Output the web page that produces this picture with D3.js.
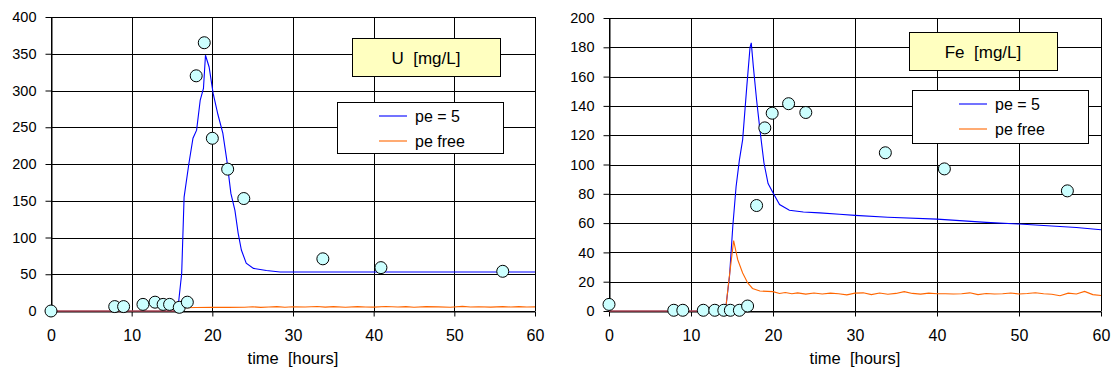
<!DOCTYPE html>
<html>
<head>
<meta charset="utf-8">
<script src="https://cdn.jsdelivr.net/npm/d3@7"></script>
<style>
  body { margin: 0; background: #fff; }
  text { font-family: "Liberation Sans", Arial, sans-serif; fill: #000; }
</style>
</head>
<body>
<svg id="chart" width="1117" height="374"></svg>
<script>
// axis ticks
var timeTicks = [0, 10, 20, 30, 40, 50, 60];
var uTicks = [0, 50, 100, 150, 200, 250, 300, 350, 400];
var feTicks = [0, 20, 40, 60, 80, 100, 120, 140, 160, 180, 200];

var seriesNames = ['pe = 5', 'pe free'];

// measured U [mg/L] (time in hours, value)
var uObs = [[0, 0], [7.9, 6], [9.0, 6], [11.4, 9], [12.9, 12], [13.9, 9], [14.7, 9],
    [15.9, 5], [16.9, 12], [18.0, 320], [19.0, 365], [20.0, 235], [21.9, 193],
    [23.9, 153], [33.7, 71], [40.9, 59], [56.0, 54]];

// modelled U, pe = 5
var uPe5 = [[0, 0], [15.7, 0], [16.2, 51], [16.5, 155], [17.1, 201], [17.6, 235],
    [18.05, 246], [18.5, 287], [18.9, 303], [19.15, 348], [19.6, 332], [20.1, 296],
    [20.7, 267], [21.3, 242], [21.8, 205], [22.3, 160], [22.8, 137], [23.2, 106],
    [23.6, 83], [24.2, 65], [25.1, 58], [26.7, 55], [28.4, 53], [60, 53]];

// modelled U, pe free
var uFree = [[0, 0], [15.8, 0], [16.3, 4.5], [18, 4.8], [20, 5], [22, 5], [24, 5.2],
    [25, 5.8], [26, 5], [27, 5.5], [28, 6], [29, 5.2], [30, 5.8], [31.5, 5.4],
    [33, 6.2], [34, 5.3], [35, 5.9], [36.5, 5.2], [38, 6], [39, 5.5], [40, 5.3],
    [41.5, 6.1], [43, 5.4], [44, 5.9], [45, 5.2], [46.5, 6], [48, 5.6], [49.5, 5.2],
    [51, 6.3], [52, 5.5], [53, 5.8], [54.5, 5.3], [56, 6], [57, 5.4], [58, 5.9],
    [59, 5.5], [60, 5.6]];

// measured Fe [mg/L]
var feObs = [[0, 4.5], [7.9, 0.5], [9.0, 0.5], [11.5, 0.5], [12.9, 0.5], [14.0, 0.5],
    [14.8, 0.5], [15.9, 0.5], [16.9, 3.4], [18.0, 72], [19.0, 125], [19.9, 135],
    [21.9, 141.5], [24.0, 135.5], [33.7, 108], [40.9, 97], [55.9, 82]];

// modelled Fe, pe = 5
var fePe5 = [[0, 0], [14.2, 0], [14.7, 24], [15.1, 58], [15.5, 85], [15.9, 103],
    [16.3, 117], [16.8, 153], [17.2, 180], [17.35, 183], [17.6, 167], [18.0, 144],
    [18.4, 124], [18.9, 101], [19.4, 87], [20.0, 80.7], [20.8, 72.7], [22.0, 68.8],
    [23.7, 67.6], [25.7, 67], [28.1, 66], [30, 65.3], [34, 64], [40, 62.7],
    [46, 60.5], [50, 59.4], [54, 58], [57, 57], [60, 55.5]];

// modelled Fe, pe free
var feFree = [[0, 0], [14.2, 0], [14.6, 20], [15.2, 48], [15.7, 35], [16.3, 26],
    [16.9, 19.3], [17.5, 15.4], [18.4, 13.6], [20, 13.2], [20.8, 12], [21.5, 12.6],
    [22.3, 11.8], [23, 12.4], [24, 11.5], [25, 12.3], [26, 11.6], [27, 12.2],
    [28, 11.8], [29, 11], [30, 12.2], [31, 12.4], [32, 11.2], [33, 12.3], [34, 11.4],
    [35, 12], [36, 13.2], [37, 12], [38, 11.5], [39, 12.2], [40, 11.8], [41, 11.8],
    [42, 11.6], [43, 11.8], [44, 12.4], [45, 11.2], [46, 11.9], [47, 11.6], [48, 11.8],
    [49, 12.3], [50, 11.6], [51, 11.9], [52, 12.5], [53, 11.8], [54, 11.4], [55, 10.4],
    [56, 12.2], [57, 11.6], [58, 13.4], [59, 11.2], [60, 10.6]];

var colors = {
    pe5: '#0000ff',
    free: '#ff6600',
    marker: '#ccffff',
    titleBox: '#ffffc0'
};

var svg = d3.select('#chart');

function drawChart(cfg){
    var g = svg.append('g');

    var x = d3.scaleLinear().domain([0, 60]).range([cfg.left, cfg.right]);
    var y = d3.scaleLinear().domain([0, cfg.yTicks[cfg.yTicks.length - 1]]).range([cfg.bottom, cfg.top]);

    // grid lines
    g.append('g')
        .selectAll('line.h')
        .data(cfg.yTicks)
        .enter().append('line')
            .attr('x1', cfg.left).attr('x2', cfg.right)
            .attr('y1', function(d){ return Math.round(y(d)) + 0.5; })
            .attr('y2', function(d){ return Math.round(y(d)) + 0.5; })
            .attr('stroke', '#000');
    g.append('g')
        .selectAll('line.v')
        .data(timeTicks)
        .enter().append('line')
            .attr('x1', function(d){ return Math.round(x(d)) + 0.5; })
            .attr('x2', function(d){ return Math.round(x(d)) + 0.5; })
            .attr('y1', cfg.top).attr('y2', cfg.bottom)
            .attr('stroke', '#000');

    // axes
    var yAxis = g.append('g')
        .attr('transform', 'translate(' + (Math.round(cfg.left) + 0.5) + ',0)')
        .call(d3.axisLeft(y).tickValues(cfg.yTicks).tickSize(6).tickSizeOuter(0).tickPadding(9));
    var xAxis = g.append('g')
        .attr('transform', 'translate(0,' + (Math.round(cfg.bottom) + 0.5) + ')')
        .call(d3.axisBottom(x).tickValues(timeTicks).tickSize(5).tickSizeOuter(0).tickPadding(13));
    yAxis.selectAll('text').style('font-size', '14.5px');
    xAxis.selectAll('text').style('font-size', '16px');
    [yAxis, xAxis].forEach(function(a){
        a.selectAll('text').style('font-family', '"Liberation Sans", Arial, sans-serif').attr('fill', '#000');
        a.selectAll('path, line').attr('stroke', '#000');
    });

    g.append('text')
        .attr('x', (cfg.left + cfg.right) / 2)
        .attr('y', 364)
        .attr('text-anchor', 'middle')
        .style('font-size', '16.5px')
        .style('white-space', 'pre')
        .text('time  [hours]');

    // model lines
    var line = d3.line()
        .x(function(d){ return x(d[0]); })
        .y(function(d){ return y(d[1]); });

    g.append('path').datum(cfg.pe5)
        .attr('d', line).attr('fill', 'none').attr('stroke', colors.pe5).attr('stroke-width', 1.1);
    g.append('path').datum(cfg.free)
        .attr('d', line).attr('fill', 'none').attr('stroke', colors.free).attr('stroke-width', 1.1);

    // measured points
    g.append('g')
        .selectAll('circle')
        .data(cfg.obs)
        .enter().append('circle')
            .attr('cx', function(d){ return x(d[0]); })
            .attr('cy', function(d){ return y(d[1]); })
            .attr('r', 6)
            .attr('fill', colors.marker)
            .attr('stroke', '#000')
            .attr('stroke-width', 1);

    // title box
    var tb = cfg.titleBox;
    g.append('rect')
        .attr('x', tb[0] + 0.5).attr('y', tb[1] + 0.5)
        .attr('width', tb[2]).attr('height', tb[3])
        .attr('fill', colors.titleBox).attr('stroke', '#000');
    g.append('text')
        .attr('x', tb[0] + tb[2] / 2)
        .attr('y', tb[1] + tb[3] / 2 + 7)
        .attr('text-anchor', 'middle')
        .style('font-size', '17px')
        .style('white-space', 'pre')
        .text(cfg.title);

    // legend
    var lb = cfg.legendBox;
    g.append('rect')
        .attr('x', lb[0] + 0.5).attr('y', lb[1] + 0.5)
        .attr('width', lb[2]).attr('height', lb[3])
        .attr('fill', '#fff').attr('stroke', '#000');
    var legendColors = [colors.pe5, colors.free];
    seriesNames.forEach(function(name, i){
        var ly = lb[1] + cfg.legendRow0 + i * cfg.legendStep;
        g.append('line')
            .attr('x1', cfg.legendLineX).attr('x2', cfg.legendLineX + 28)
            .attr('y1', ly).attr('y2', ly)
            .attr('stroke', legendColors[i]).attr('stroke-width', 1.1);
        g.append('text')
            .attr('x', cfg.legendLineX + 36)
            .attr('y', ly + 6)
            .style('font-size', '16px')
            .text(name);
    });

    // plot frame on the right side
    g.append('line')
        .attr('x1', Math.round(cfg.right) + 0.5).attr('x2', Math.round(cfg.right) + 0.5)
        .attr('y1', cfg.top).attr('y2', cfg.bottom)
        .attr('stroke', '#000');
}

drawChart({
    left: 51, right: 535, top: 17, bottom: 311,
    yTicks: uTicks,
    obs: uObs, pe5: uPe5, free: uFree,
    title: 'U  [mg/L]',
    titleBox: [352, 38, 148, 38],
    legendBox: [337, 102, 166, 51],
    legendRow0: 14, legendStep: 25, legendLineX: 379
});

drawChart({
    left: 609, right: 1101, top: 18, bottom: 311,
    yTicks: feTicks,
    obs: feObs, pe5: fePe5, free: feFree,
    title: 'Fe  [mg/L]',
    titleBox: [909, 32, 148, 38],
    legendBox: [912, 90, 176, 53],
    legendRow0: 14, legendStep: 25, legendLineX: 959
});
</script>
</body>
</html>
